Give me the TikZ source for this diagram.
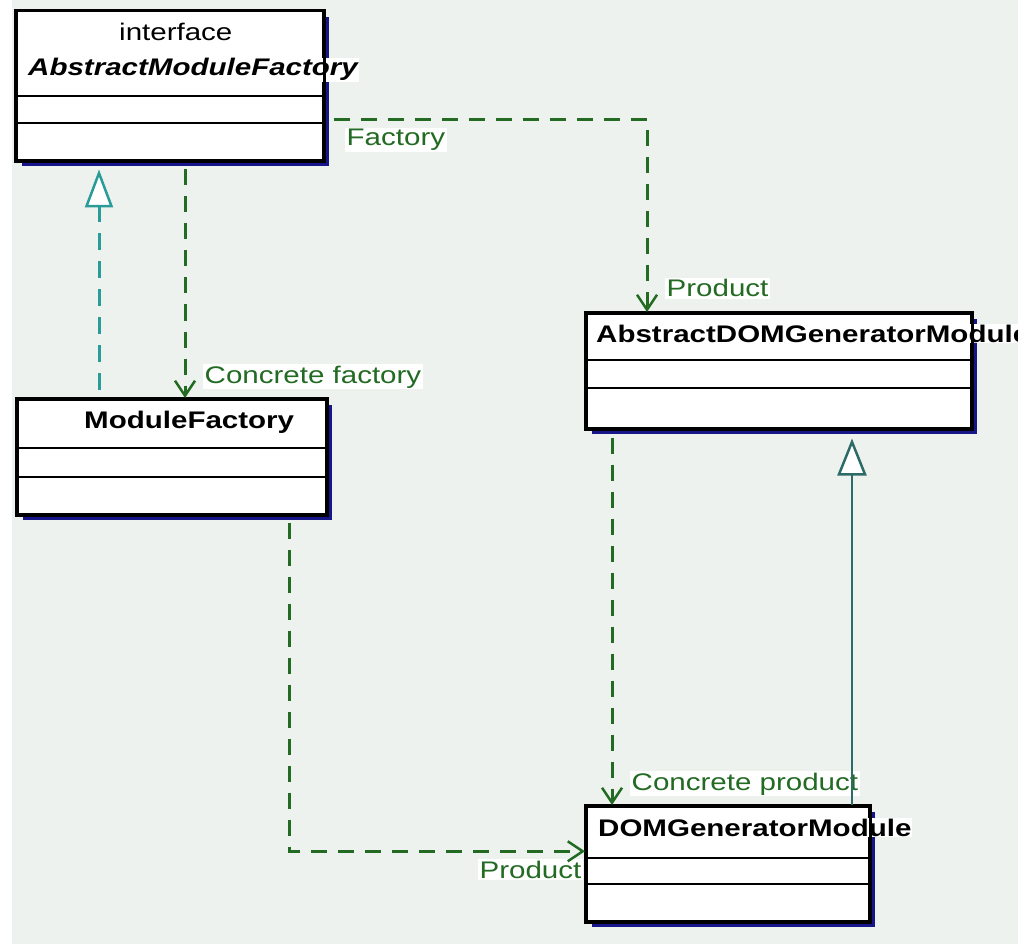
\documentclass[tikz,border=0pt]{standalone}
\usepackage{fontspec}
\setmainfont{Liberation Sans}[FakeStretch=1.23]
\usetikzlibrary{arrows.meta}

\definecolor{bgtint}{HTML}{EEF2EE}
\definecolor{depgreen}{HTML}{236B23}
\definecolor{realteal}{HTML}{2A9C98}
\definecolor{genteal}{HTML}{2D6B68}
\definecolor{shadownavy}{HTML}{16168A}

\tikzset{
  classbox/.style={draw=black, line width=2.5pt, fill=white, inner sep=0pt, anchor=north west},
  boxline/.style={draw=black, line width=2.5pt},
  classname/.style={font=\fontsize{24}{28}\selectfont\bfseries, inner sep=1pt, anchor=base west, fill=white},
  rolelabel/.style={font=\fontsize{24}{28}\selectfont, text=depgreen, inner sep=1.5pt, anchor=base west, fill=white},
  dep/.style={depgreen, line width=3pt, dash pattern=on 16pt off 11pt,
    -{Straight Barb[length=15pt,width=20pt,line width=2.5pt]}},
  realize/.style={realteal, line width=3pt, dash pattern=on 17pt off 11pt,
    -{Triangle[open,length=38pt,width=28pt,line width=2.5pt,fill=white]}},
  gen/.style={genteal, line width=2.5pt,
    -{Triangle[open,length=37pt,width=29pt,line width=2.5pt,fill=white]}},
}

\newcommand{\umlclass}[5]{%
  % #1 name, #2 x, #3 y, #4 width, #5 height
  \fill[shadownavy] (#2+7,#3+7) rectangle (#2+#4+7,#3+#5+7);
  \node[classbox, minimum width=#4pt, minimum height=#5pt] (#1) at (#2,#3) {};
}

\begin{document}
\begin{tikzpicture}[x=1pt,y=-1pt]
  \useasboundingbox (0,0) rectangle (1018,944);
  \fill[white] (0,0) rectangle (1018,944);
  \fill[bgtint] (12,0) rectangle (1018,944);

  % class boxes
  \umlclass{amf}{15}{10}{307}{149}
  \umlclass{mf}{16}{398}{309}{115}
  \umlclass{adgm}{585}{312}{385}{115}
  \umlclass{dgm}{585}{805}{283}{115}

  % compartment dividers
  \foreach \n/\ya/\yb in {amf/96/123, mf/448/477, adgm/360/388, dgm/858/884}{
    \draw[boxline] (\n.west |- 0,\ya) -- (\n.east |- 0,\ya);
    \draw[boxline] (\n.west |- 0,\yb) -- (\n.east |- 0,\yb);
  }

  % class names
  \node[classname] (amftag) at (118,41) {\mdseries interface};
  \node[classname] (amfname) at (27,76) {\itshape AbstractModuleFactory};
  \node[classname] (mfname) at (83,428) {ModuleFactory};
  \node[classname] (adgmname) at (595,342) {AbstractDOMGeneratorModule};
  \node[classname] (dgmname) at (597,836) {DOMGeneratorModule};

  % borders over the name backgrounds
  \foreach \n in {amf, mf, adgm, dgm}{
    \draw[boxline] (\n.north west) rectangle (\n.south east);
  }

  % role labels
  \node[rolelabel] (lfactory) at (345,146) {Factory};
  \node[rolelabel] (lproducta) at (665,297) {Product};
  \node[rolelabel] (lcfactory) at (203,383) {Concrete factory};
  \node[rolelabel] (lcproduct) at (630,790) {Concrete product};
  \node[rolelabel, anchor=base east] (lproductb) at (583,878) {Product};

  % realization: ModuleFactory implements AbstractModuleFactory
  \draw[realize] ([xshift=83pt,yshift=8pt]mf.north west) -- ([xshift=84pt,yshift=-8pt]amf.south west);

  % generalization: DOMGeneratorModule extends AbstractDOMGeneratorModule
  \draw[gen] ([xshift=267pt]dgm.north west) -- ([xshift=267pt,yshift=-9pt]adgm.south west);

  % dependencies
  \draw[dep] ([xshift=170pt,yshift=-8pt]amf.south west) -- ([xshift=169pt]mf.north west);
  \draw[dep] ([xshift=9pt,yshift=42pt]amf.south east) -| ([xshift=62pt]adgm.north west);
  \draw[dep] ([xshift=273pt,yshift=-7pt]mf.south west) |- ([yshift=12.5pt]dgm.west);
  \draw[dep] ([xshift=27pt,yshift=-8pt]adgm.south west) -- ([xshift=27pt]dgm.north west);
\end{tikzpicture}
\end{document}
